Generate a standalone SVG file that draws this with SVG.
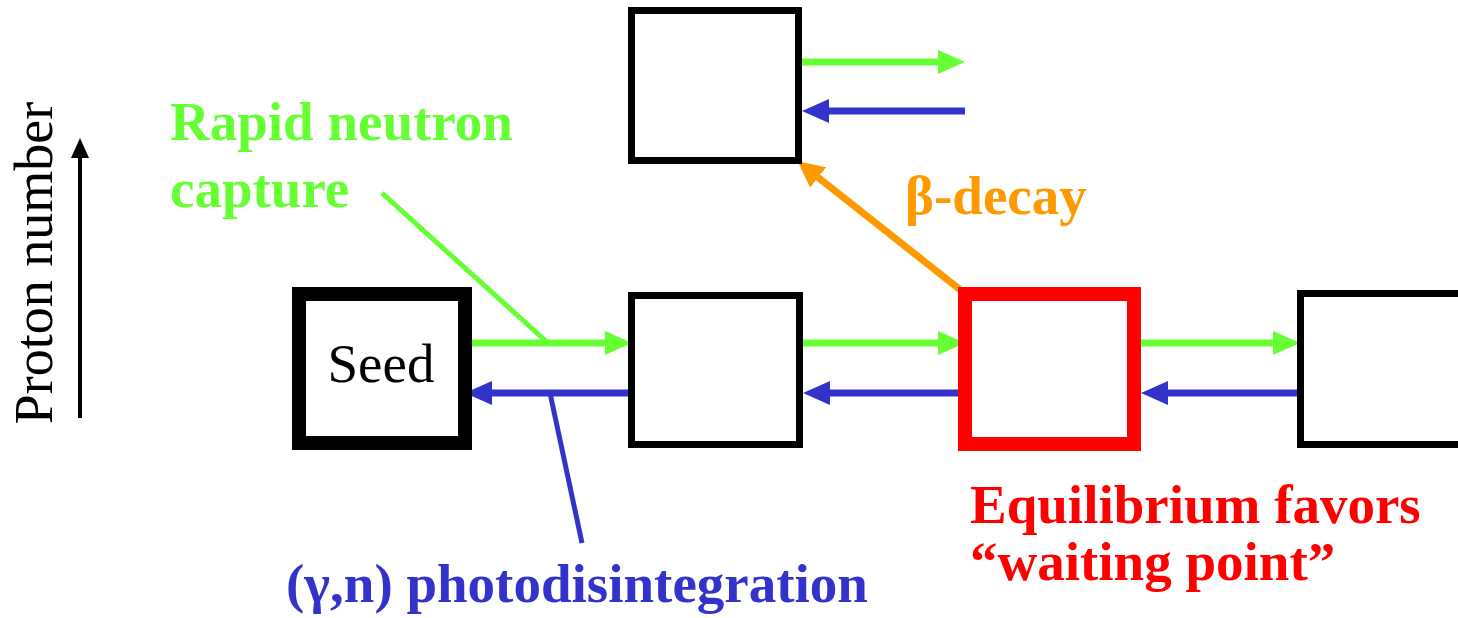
<svg xmlns="http://www.w3.org/2000/svg" width="1458" height="618" viewBox="0 0 1458 618">
<style>
.box{fill:#fff;stroke:#000;stroke-width:7}
.thick{stroke-width:14}
.red{stroke:#FF0000;stroke-width:14}
.g{stroke:#66FF33;stroke-width:7;fill:none}
.b{stroke:#3333CC;stroke-width:7;fill:none}
.gl{stroke:#66FF33;stroke-width:5;fill:none}
.bl{stroke:#3333CC;stroke-width:5;fill:none}
.o{stroke:#FF9900;stroke-width:7;fill:none}
.k{stroke:#000;stroke-width:4;fill:none}
text{font-family:'Liberation Serif','DejaVu Serif',serif;font-size:55px}
.bold{font-weight:bold}
</style>
<defs>
<marker id="mg" markerUnits="userSpaceOnUse" markerWidth="27" markerHeight="24" refX="4" refY="12" orient="auto"><path d="M0,0 L27,12 L0,24 z" fill="#66FF33"/></marker>
<marker id="mb" markerUnits="userSpaceOnUse" markerWidth="27" markerHeight="24" refX="4" refY="12" orient="auto"><path d="M0,0 L27,12 L0,24 z" fill="#3333CC"/></marker>
<marker id="mo" markerUnits="userSpaceOnUse" markerWidth="26" markerHeight="26" refX="4" refY="13" orient="auto"><path d="M0,0 L26,13 L0,26 z" fill="#FF9900"/></marker>
<marker id="mk" markerUnits="userSpaceOnUse" markerWidth="20" markerHeight="18" refX="3" refY="9" orient="auto"><path d="M0,0 L20,9 L0,18 z" fill="#000"/></marker>
</defs>

<g id="axis">
<line class="k" x1="80" y1="418" x2="80" y2="155" marker-end="url(#mk)"/>
<text font-family="Liberation Serif, serif" text-anchor="middle" transform="translate(52,263) rotate(-90)" style="font-size:54px">Proton number</text>
</g>

<g id="connectors">
<line class="g" x1="465" y1="343" x2="609" y2="343" marker-end="url(#mg)"/>
<line class="g" x1="800" y1="343" x2="942" y2="343" marker-end="url(#mg)"/>
<line class="g" x1="1133" y1="343" x2="1277" y2="343" marker-end="url(#mg)"/>
<line class="g" x1="802" y1="62" x2="942" y2="62" marker-end="url(#mg)"/>
<line class="b" x1="630" y1="393" x2="488" y2="393" marker-end="url(#mb)"/>
<line class="b" x1="960" y1="393" x2="826" y2="393" marker-end="url(#mb)"/>
<line class="b" x1="1299" y1="393" x2="1164" y2="393" marker-end="url(#mb)"/>
<line class="b" x1="965" y1="111" x2="825" y2="111" marker-end="url(#mb)"/>
<line class="o" x1="963" y1="292" x2="815" y2="175" marker-end="url(#mo)"/>
<line class="gl" x1="382" y1="193" x2="548" y2="343"/>
<line class="bl" x1="550" y1="393" x2="582" y2="543"/>
</g>

<g id="seed">
<rect class="box thick" x="299" y="294" width="166" height="149"/>
<text x="381" y="382" text-anchor="middle">Seed</text>
</g>
<g id="n2"><rect class="box" x="631.5" y="295.5" width="168" height="149"/></g>
<g id="top"><rect class="box" x="631.5" y="10.5" width="167" height="150"/></g>
<g id="waiting"><rect class="box red" x="965" y="294" width="169" height="150"/></g>
<g id="n4"><rect class="box" x="1300.5" y="293.5" width="200" height="151"/></g>

<g id="labels">
<text class="bold" fill="#66FF33" x="170" y="140">Rapid neutron</text>
<text class="bold" fill="#66FF33" x="170" y="207">capture</text>
<text class="bold" fill="#FF9900" x="905" y="214">β-decay</text>
<text class="bold" fill="#3333CC" x="286" y="602">(γ,n) photodisintegration</text>
<text class="bold" fill="#FF0000" x="970" y="523">Equilibrium favors</text>
<text class="bold" fill="#FF0000" x="970" y="580">“waiting point”</text>
</g>
</svg>
